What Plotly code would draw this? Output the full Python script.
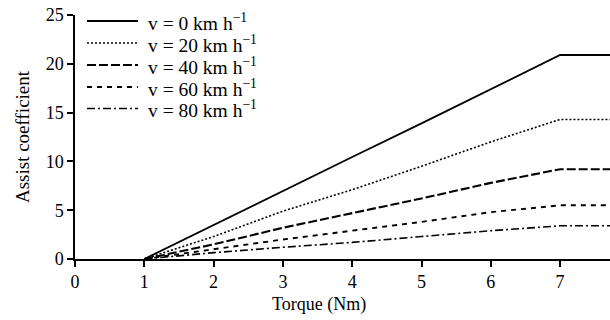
import plotly.graph_objects as go

torque = [1, 2, 3, 4, 5, 6, 7, 7.8]
v0 = [0, 3.5, 7.0, 10.45, 13.9, 17.4, 20.9, 20.9]
v20 = [0, 2.3, 4.9, 7.1, 9.5, 12.0, 14.3, 14.3]
v40 = [0, 1.5, 3.2, 4.7, 6.2, 7.8, 9.2, 9.2]
v60 = [0, 1.0, 2.0, 2.9, 3.8, 4.8, 5.5, 5.5]
v80 = [0, 0.65, 1.2, 1.7, 2.3, 2.9, 3.4, 3.4]
names = ["v = 0 km h<sup>\u22121</sup>", "v = 20 km h<sup>\u22121</sup>",
         "v = 40 km h<sup>\u22121</sup>", "v = 60 km h<sup>\u22121</sup>",
         "v = 80 km h<sup>\u22121</sup>"]
series = [v0, v20, v40, v60, v80]
styles = [("solid", 1.8), ("2px,2px", 1.6), ("9px,3px", 2.1), ("5px,5px", 1.9), ("8px,3px,2px,3px", 1.6)]

FONT = "Liberation Serif, Times New Roman, serif"
W, H = 610, 320
ML, MR, MT, MB = 75, 0, 15, 61
PW, PH = W - ML - MR, H - MT - MB


def px_to_paper(xp, yp):
    return (xp - ML) / PW, (H - MB - yp) / PH


fig = go.Figure()
for nm, ys, (dash, w) in zip(names, series, styles):
    fig.add_trace(go.Scatter(x=torque, y=ys, mode="lines", name=nm, showlegend=False,
                             line=dict(color="black", width=w, dash=dash)))

# hand-built legend (tighter row spacing than plotly's native legend allows)
shapes = []
annotations = []
row_y = [21, 43, 65, 87, 108.5]
for i, (nm, (dash, w)) in enumerate(zip(names, styles)):
    x0, y0 = px_to_paper(87, row_y[i])
    x1, _ = px_to_paper(138, row_y[i])
    shapes.append(dict(type="line", xref="paper", yref="paper", x0=x0, x1=x1, y0=y0, y1=y0,
                       line=dict(color="black", width=w, dash=dash)))
    tx, ty = px_to_paper(146, row_y[i] + 1)
    annotations.append(dict(text=nm, xref="paper", yref="paper", x=tx, y=ty,
                            xanchor="left", yanchor="middle", showarrow=False,
                            font=dict(size=19.5)))

tx, ty = px_to_paper(319, 305)
annotations.append(dict(text="Torque (Nm)", xref="paper", yref="paper",
                        x=tx, y=ty, xanchor="center", yanchor="middle",
                        showarrow=False, font=dict(size=18)))

fig.update_layout(
    width=W, height=H,
    margin=dict(l=ML, r=MR, t=MT, b=MB),
    plot_bgcolor="white", paper_bgcolor="white",
    font=dict(family=FONT, size=18, color="black"),
    showlegend=False,
    xaxis=dict(range=[0, 7.72], tickvals=[0, 1, 2, 3, 4, 5, 6, 7],
               showline=True, linecolor="black", linewidth=1.5,
               ticks="outside", ticklen=6, tickwidth=1.5, tickcolor="black",
               showgrid=False, zeroline=False, tickfont=dict(size=18)),
    yaxis=dict(range=[0, 25], tickvals=[0, 5, 10, 15, 20, 25],
               showline=True, linecolor="black", linewidth=1.5,
               ticks="outside", ticklen=6, tickwidth=1.5, tickcolor="black",
               showgrid=False, zeroline=False, tickfont=dict(size=18),
               title=dict(text="Assist coefficient", font=dict(size=19), standoff=11)),
    shapes=shapes,
    annotations=annotations,
)
fig.write_html("out.html")
